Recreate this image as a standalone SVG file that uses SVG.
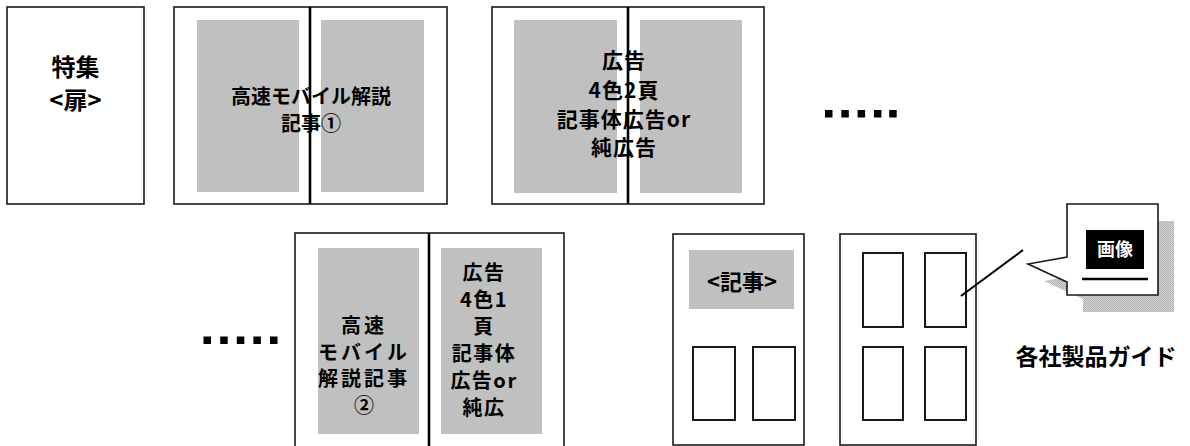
<svg xmlns="http://www.w3.org/2000/svg" width="1190" height="446" viewBox="0 0 1190 446">
<style>
.pg{fill:#fff;stroke:#1a1a1a;stroke-width:1.6}
.gr{fill:#c0c0c0;stroke:none}
.sp{stroke:#000;stroke-width:2.6;fill:none}
.sm{fill:#fff;stroke:#1a1a1a;stroke-width:2}
.t{font-family:"Noto Sans CJK JP","Noto Sans CJK SC",sans-serif;font-weight:bold;fill:#000;text-anchor:middle}
.dot{fill:#000}
</style>
<defs>
<pattern id="chk" width="2" height="2" patternUnits="userSpaceOnUse">
<rect width="2" height="2" fill="#d2d2d2"/>
<rect width="1" height="1" fill="#b4b4b4"/>
<rect x="1" y="1" width="1" height="1" fill="#b4b4b4"/>
</pattern>
</defs>

<g id="page-tokushu">
<rect class="pg" x="7" y="7" width="137" height="197"/>
<text class="t" x="75.5" y="75.5" font-size="24">特集</text>
<text class="t" x="75.5" y="109" font-size="24">&lt;扉&gt;</text>
</g>

<g id="spread-mobile1">
<rect class="pg" x="174" y="7" width="273" height="197"/>
<rect class="gr" x="197" y="20" width="102" height="172"/>
<rect class="gr" x="321" y="20" width="103" height="172"/>
<line class="sp" x1="310" y1="7" x2="310" y2="204"/>
<text class="t" x="311" y="104" font-size="20">高速モバイル解説</text>
<text class="t" x="311" y="131" font-size="20">記事①</text>
</g>

<g id="spread-ad2">
<rect class="pg" x="492" y="7" width="272" height="197"/>
<rect class="gr" x="514" y="20" width="103" height="173"/>
<rect class="gr" x="640" y="20" width="102" height="173"/>
<line class="sp" x1="628" y1="7" x2="628" y2="204"/>
<text class="t" x="624" y="68" font-size="21" letter-spacing="1">広告</text>
<text class="t" x="624" y="97.5" font-size="21" letter-spacing="1">4色2頁</text>
<text class="t" x="624" y="127" font-size="21" letter-spacing="1">記事体広告or</text>
<text class="t" x="624" y="155" font-size="21" letter-spacing="1">純広告</text>
</g>

<g id="ellipsis-top">
<rect class="dot" x="825" y="110" width="7.5" height="7.5"/>
<rect class="dot" x="841.3" y="110" width="7.5" height="7.5"/>
<rect class="dot" x="857.6" y="110" width="7.5" height="7.5"/>
<rect class="dot" x="873.9" y="110" width="7.5" height="7.5"/>
<rect class="dot" x="889.2" y="110" width="7.5" height="7.5"/>
</g>

<g id="ellipsis-bottom">
<rect class="dot" x="203.5" y="336.5" width="7.5" height="7.5"/>
<rect class="dot" x="220.2" y="336.5" width="7.5" height="7.5"/>
<rect class="dot" x="236.8" y="336.5" width="7.5" height="7.5"/>
<rect class="dot" x="253.4" y="336.5" width="7.5" height="7.5"/>
<rect class="dot" x="270" y="336.5" width="7.5" height="7.5"/>
</g>

<g id="spread-mobile2-ad1">
<rect class="pg" x="295" y="233" width="269" height="230"/>
<rect class="gr" x="318" y="248" width="101" height="186"/>
<rect class="gr" x="441" y="248" width="101" height="186"/>
<line class="sp" x1="429" y1="233" x2="429" y2="446"/>
<text class="t" x="364" y="333" font-size="20" letter-spacing="3">高速</text>
<text class="t" x="364" y="359.5" font-size="20" letter-spacing="3">モバイル</text>
<text class="t" x="364" y="386" font-size="20" letter-spacing="3">解説記事</text>
<text class="t" x="364" y="412.5" font-size="20">②</text>
<text class="t" x="484" y="280" font-size="20" letter-spacing="1.5">広告</text>
<text class="t" x="484" y="307" font-size="20" letter-spacing="1.5">4色1</text>
<text class="t" x="484" y="334" font-size="20" letter-spacing="1.5">頁</text>
<text class="t" x="484" y="361" font-size="20" letter-spacing="1.5">記事体</text>
<text class="t" x="484" y="388" font-size="20" letter-spacing="1.5">広告or</text>
<text class="t" x="484" y="415" font-size="20" letter-spacing="1.5">純広</text>
</g>

<g id="page-article">
<rect class="pg" x="673" y="234" width="131" height="211"/>
<rect class="gr" x="689" y="250" width="105" height="59"/>
<text class="t" x="742" y="290" font-size="22">&lt;記事&gt;</text>
<rect class="sm" x="693" y="347" width="42" height="73"/>
<rect class="sm" x="753" y="347" width="42" height="73"/>
</g>

<g id="page-guide">
<rect class="pg" x="840" y="234" width="136" height="211"/>
<rect class="sm" x="863" y="253" width="40" height="74"/>
<rect class="sm" x="925" y="253" width="41" height="74"/>
<rect class="sm" x="863" y="347" width="40" height="73"/>
<rect class="sm" x="925" y="347" width="41" height="73"/>
</g>

<g id="connectors">
<line x1="961" y1="296" x2="1023" y2="250" stroke="#000" stroke-width="2"/>
</g>

<g id="callout-image">
<polygon points="1083,221 1174,221 1174,312 1083,312 1083,299 1044,281 1083,274" fill="url(#chk)"/>
<polygon points="1067,204 1158,204 1158,295 1067,295 1067,282 1028,264 1067,257" fill="#fff" stroke="#1a1a1a" stroke-width="1.6"/>
<rect x="1086" y="230" width="58" height="39" fill="#000"/>
<text class="t" x="1115" y="256" font-size="18" style="fill:#fff">画像</text>
<line x1="1082" y1="279" x2="1148" y2="279" stroke="#000" stroke-width="2.6"/>
</g>

<g id="label-guide">
<text class="t" x="1096" y="365" font-size="23">各社製品ガイド</text>
</g>
</svg>
